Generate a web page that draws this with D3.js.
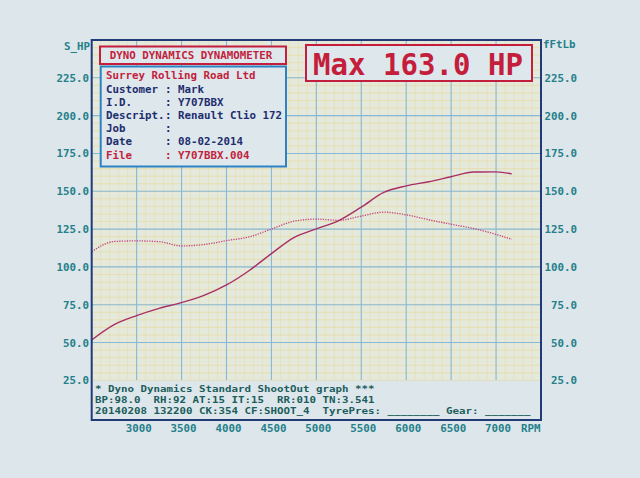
<!DOCTYPE html>
<html><head><meta charset="utf-8">
<script src="https://cdn.jsdelivr.net/npm/d3@7"></script>
<style>
html,body{margin:0;padding:0;background:#dce6eb;}
svg{display:block;}
text{font-family:"DejaVu Sans Mono",monospace;font-weight:bold;}
</style></head>
<body>
<svg id="c" width="640" height="478"></svg>
<script>
// ---- data ----
const rpm    = [2500, 2750, 3000, 3250, 3500, 3750, 4000, 4250, 4500, 4750, 5000, 5250, 5500, 5750, 6000, 6250, 6500, 6750, 7000, 7175];
const powerHP = [51.7, 61.8, 67.8, 72.6, 76.4, 81.2, 88.1, 97.5, 108.8, 119.4, 125.1, 130.6, 139.5, 149.2, 153.6, 156.3, 159.6, 162.7, 162.8, 161.5];
const torqueFtLb = [110.1, 116.8, 117.2, 116.7, 113.9, 114.8, 117.4, 119.8, 125.0, 130.2, 131.6, 130.8, 133.6, 136.2, 134.4, 131.2, 128.2, 125.4, 121.5, 118.3];
const xTicks = [3000, 3500, 4000, 4500, 5000, 5500, 6000, 6500, 7000];
const yTicks = [225, 200, 175, 150, 125, 100, 75, 50, 25];
const infoLabels = ["Customer", "I.D.", "Descript.", "Job", "Date", "File"];
const infoValues = ["Mark", "Y707BBX", "Renault Clio 172", "", "08-02-2014", "Y707BBX.004"];
const footerLines = [
  "* Dyno Dynamics Standard ShootOut graph ***",
  "BP:98.0  RH:92 AT:15 IT:15  RR:010 TN:3.541",
  "20140208 132200 CK:354 CF:SHOOT_4  TyrePres: ________ Gear: _______"
];
const maxText = "Max 163.0 HP";

// ---- layout ----
const svg = d3.select("#c");
const L = 91.7, R = 541, T = 40, B = 420, gridBottom = 380;
const x = d3.scaleLinear().domain([2500, 7500]).range([L, R]);
const y = d3.scaleLinear().domain([0, 250]).range([418.2, T]);
const teal = "#25808a", navy = "#213b78", red = "#c41e3c", dark = "#1d2d6e", foot = "#1d5d5c";
const fs = 10.8;

// plot paper
svg.append("rect").attr("x", L).attr("y", T).attr("width", R - L).attr("height", gridBottom - T).attr("fill", "#e5e9dc");
const g = svg.append("g");
// minor grid
d3.range(2500, 7500, 100).forEach(v => {
  g.append("line").attr("x1", x(v)).attr("x2", x(v)).attr("y1", T).attr("y2", gridBottom)
   .attr("stroke", "#e6d68a").attr("stroke-width", 0.8).attr("opacity", 0.4);
});
d3.range(25, 250, 5).forEach(v => {
  g.append("line").attr("x1", L).attr("x2", R).attr("y1", y(v)).attr("y2", y(v))
   .attr("stroke", "#e6d68a").attr("stroke-width", 0.9).attr("opacity", 0.55);
});
// major grid
xTicks.forEach(v => {
  g.append("line").attr("x1", x(v)).attr("x2", x(v)).attr("y1", T).attr("y2", gridBottom)
   .attr("stroke", "#86b9d9").attr("stroke-width", 1.1);
});
yTicks.filter(v => v > 25).forEach(v => {
  g.append("line").attr("x1", L).attr("x2", R).attr("y1", y(v)).attr("y2", y(v))
   .attr("stroke", "#86b9d9").attr("stroke-width", 1.1);
});

// curves
const pts = (arr) => rpm.map((r, i) => [r, arr[i]]);
const line = d3.line().x(d => x(d[0])).y(d => y(d[1])).curve(d3.curveMonotoneX);
svg.append("path").attr("d", line(pts(torqueFtLb))).attr("fill", "none")
  .attr("stroke", "#c4467f").attr("stroke-width", 1.3).attr("stroke-dasharray", "1.3,1.2");
svg.append("path").attr("d", line(pts(powerHP))).attr("fill", "none")
  .attr("stroke", "#a82f66").attr("stroke-width", 1.4);

// frame
svg.append("rect").attr("x", L).attr("y", T).attr("width", R - L).attr("height", B - T)
  .attr("fill", "none").attr("stroke", navy).attr("stroke-width", 2);

// axes
const fmt = d3.format(".1f");
const ax = svg.append("g").attr("transform", "translate(89,0)")
  .call(d3.axisLeft(y).tickValues(yTicks).tickFormat(fmt).tickSize(0).tickPadding(0));
const axR = svg.append("g").attr("transform", "translate(577,0)")
  .call(d3.axisRight(y).tickValues(yTicks).tickFormat(fmt).tickSize(0).tickPadding(0));
axR.selectAll("text").attr("text-anchor", "end");
const axB = svg.append("g").attr("transform", "translate(1.5,424)")
  .call(d3.axisBottom(x).tickValues(xTicks).tickFormat(d3.format("d")).tickSize(0).tickPadding(0));
[ax, axR, axB].forEach(a => {
  a.select(".domain").remove();
  a.selectAll("text").attr("fill", teal).style("font-size", fs + "px")
   .style("font-family", "'DejaVu Sans Mono',monospace").style("font-weight", "bold");
});
svg.append("text").attr("x", 90).attr("y", 50).attr("text-anchor", "end").attr("fill", teal)
  .style("font-size", fs + "px").text("S_HP");
svg.append("text").attr("x", 543).attr("y", 48).attr("fill", teal)
  .style("font-size", fs + "px").text("fFtLb");
svg.append("text").attr("x", 521).attr("y", 432).attr("fill", teal)
  .style("font-size", fs + "px").text("RPM");

// footer
footerLines.forEach((t, i) => {
  svg.append("text").attr("x", 95).attr("y", 391.5 + i * 11.4).attr("fill", foot)
    .attr("textLength", t.length * 6.5).attr("lengthAdjust", "spacingAndGlyphs")
    .style("font-size", "9.4px").style("white-space", "pre").attr("xml:space", "preserve").text(t);
});

// title box
svg.append("rect").attr("x", 100).attr("y", 46.5).attr("width", 186).attr("height", 17.5)
  .attr("fill", "#dde7ec").attr("stroke", red).attr("stroke-width", 2);
svg.append("text").attr("x", 191).attr("y", 59.3).attr("text-anchor", "middle").attr("fill", red)
  .style("font-size", fs + "px").text("DYNO DYNAMICS DYNAMOMETER");

// info box
svg.append("rect").attr("x", 100.7).attr("y", 66.5).attr("width", 185.3).attr("height", 100)
  .attr("fill", "#dde7ec").attr("stroke", "#2c82c4").attr("stroke-width", 2);
svg.append("text").attr("x", 106).attr("y", 78.5).attr("fill", red)
  .style("font-size", fs + "px").text("Surrey Rolling Road Ltd");
infoLabels.forEach((lab, i) => {
  const yy = 92.5 + i * 13.2;
  const col = lab === "File" ? red : dark;
  svg.append("text").attr("x", 106).attr("y", yy).attr("fill", col).style("font-size", fs + "px").text(lab);
  svg.append("text").attr("x", 165).attr("y", yy).attr("fill", col).style("font-size", fs + "px").text(":");
  svg.append("text").attr("x", 178).attr("y", yy).attr("fill", col).style("font-size", fs + "px").text(infoValues[i]);
});

// max box
svg.append("rect").attr("x", 306).attr("y", 45).attr("width", 226).attr("height", 36)
  .attr("fill", "#dde7ec").attr("stroke", red).attr("stroke-width", 2);
svg.append("text").attr("x", 313).attr("y", 75).attr("fill", red)
  .attr("textLength", 210).attr("lengthAdjust", "spacingAndGlyphs")
  .style("font-size", "31px").text(maxText);
</script>
</body></html>
